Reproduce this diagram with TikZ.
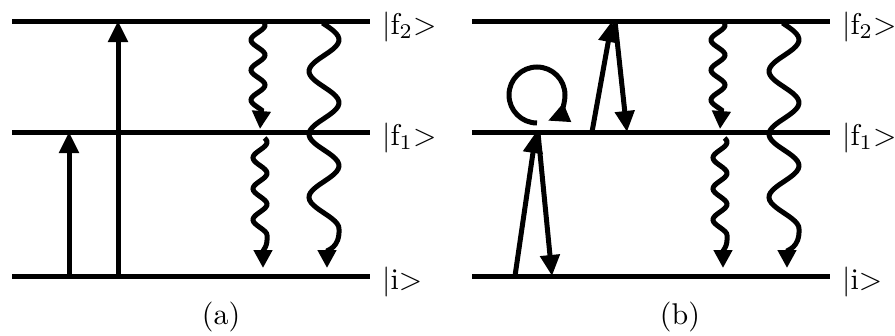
\documentclass[tikz,border=0pt]{standalone}
\usetikzlibrary{arrows.meta}

\tikzset{
  level/.style={line width=5pt},
  jump/.style={line width=5pt, -{Triangle[length=21pt,width=19pt]}},
  decay/.style={line width=5pt, -{Triangle[length=18pt,width=18pt]}},
  ket/.style={anchor=base west, inner sep=0pt},
  caption/.style={anchor=base, inner sep=0pt},
}
\newcommand{\bigtext}[1]{\scalebox{3}{#1}}

\begin{document}
\begin{tikzpicture}[x=1pt, y=-1pt]
    \useasboundingbox (0,0) rectangle (895,335);

    % panel (a)
    \begin{scope}
        % levels
        \coordinate (a0l) at (12,276);
        \coordinate (a0r) at (370,276);
        \coordinate (a1l) at (12,132);
        \coordinate (a1r) at (370,132);
        \coordinate (a2l) at (12,21);
        \coordinate (a2r) at (370,21);

        \draw[level] (a0l) -- (a0r);
        \draw[level] (a1l) -- (a1r);
        \draw[level] (a2l) -- (a2r);

        \node[ket] (ka2) at (382,34) {\bigtext{|f\textsubscript{2}>}};
        \node[ket] (ka1) at (382,145) {\bigtext{|f\textsubscript{1}>}};
        \node[ket] (ka0) at (382,289) {\bigtext{|i>}};

        % absorption
        \coordinate (au1) at (69,276);
        \coordinate (av1) at (69,132);
        \coordinate (au2) at (118,276);
        \coordinate (av2) at (118,21);
        \draw[jump] (au1) -- (av1);
        \draw[jump] (au2) -- (av2);

        % emission
        \coordinate (aw1) at (260,129);
        \coordinate (aw2) at (263,268);
        \coordinate (aw3) at (327,268);
        \draw[decay] plot[domain=23:110, samples=60, smooth] ({258+7*sin(12*(\x-17.5))}, \x) -- (aw1);
        \draw[decay] plot[domain=138:235, samples=60, smooth] ({260+7*sin(360/31*(\x-134.5))}, \x)
            .. controls (268,247) and (263,250) .. (aw2);
        \draw[decay] plot[domain=23:229, samples=80, smooth] ({324+15*sin(360/63*(\x-24))}, \x)
            .. controls (340,248) and (327,250) .. (aw3);

        \node[caption] (capa) at (221,324) {\bigtext{(a)}};
    \end{scope}

    % panel (b)
    \begin{scope}[shift={(460,0)}]
        % levels
        \coordinate (b0l) at (12,276);
        \coordinate (b0r) at (370,276);
        \coordinate (b1l) at (12,132);
        \coordinate (b1r) at (370,132);
        \coordinate (b2l) at (12,21);
        \coordinate (b2r) at (370,21);

        \draw[level] (b0l) -- (b0r);
        \draw[level] (b1l) -- (b1r);
        \draw[level] (b2l) -- (b2r);

        \node[ket] (kb2) at (382,34) {\bigtext{|f\textsubscript{2}>}};
        \node[ket] (kb1) at (382,145) {\bigtext{|f\textsubscript{1}>}};
        \node[ket] (kb0) at (382,289) {\bigtext{|i>}};

        % up and back down
        \coordinate (bu1) at (55,276);
        \coordinate (bv1) at (76,132);
        \coordinate (bv1d) at (78,133);
        \coordinate (bu1d) at (92,276);
        \draw[jump] (bu1) -- (bv1);
        \draw[jump] (bv1d) -- (bu1d);

        \coordinate (bu2) at (132,132);
        \coordinate (bv2) at (152,21);
        \coordinate (bv2d) at (155,21);
        \coordinate (bu2d) at (167,132);
        \draw[jump] (bu2) -- (bv2);
        \draw[jump] (bv2d) -- (bu2d);

        % loop
        \coordinate (bc) at (77,95);
        \draw[jump] (bc) ++(90:28) arc[start angle=90, end angle=427, radius=28];

        % emission
        \coordinate (bw1) at (260,129);
        \coordinate (bw2) at (263,268);
        \coordinate (bw3) at (327,268);
        \draw[decay] plot[domain=23:110, samples=60, smooth] ({258+7*sin(12*(\x-17.5))}, \x) -- (bw1);
        \draw[decay] plot[domain=138:235, samples=60, smooth] ({260+7*sin(360/31*(\x-134.5))}, \x)
            .. controls (268,247) and (263,250) .. (bw2);
        \draw[decay] plot[domain=23:229, samples=80, smooth] ({324+15*sin(360/63*(\x-24))}, \x)
            .. controls (340,248) and (327,250) .. (bw3);

        \node[caption] (capb) at (220,324) {\bigtext{(b)}};
    \end{scope}

\end{tikzpicture}
\end{document}
